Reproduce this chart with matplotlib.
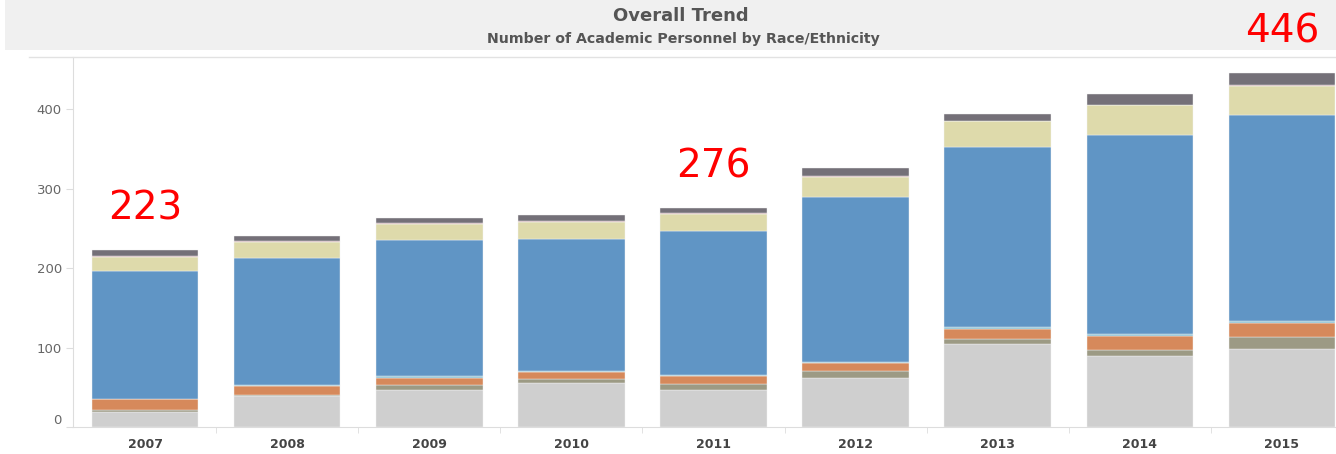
import numpy as np
import matplotlib.pyplot as plt
from matplotlib.patches import Rectangle
from matplotlib.lines import Line2D

# Academic personnel counts by race/ethnicity
years = ['2007', '2008', '2009', '2010', '2011', '2012', '2013', '2014', '2015']
unknown = [19, 39, 46, 55, 47, 62, 105, 89, 98]
two_or_more = [3, 1, 7, 5, 7, 8, 6, 8, 15]
hispanic = [13, 12, 9, 9, 10, 10, 13, 18, 18]
pacific_isl = [0, 1, 2, 2, 2, 2, 2, 2, 2]
white = [162, 160, 171, 166, 181, 208, 227, 251, 260]
asian = [17, 20, 21, 21, 21, 25, 32, 37, 37]
amer_indian = [1, 1, 1, 1, 1, 1, 1, 1, 1]
black = [8, 6, 6, 8, 7, 10, 8, 13, 15]
labelled_years = ['2007', '2011', '2015']

series = [unknown, two_or_more, hispanic, pacific_isl, white, asian, amer_indian, black]
colors = ['#CFCFCF', '#9C9A84', '#D6895B', '#8CC2D6', '#6095C5', '#DEDAAB', '#C8A0A4', '#747078']

W, H = 1336, 454
fig = plt.figure(figsize=(W / 100, H / 100), dpi=100)

# grey title band
fig.patches.append(Rectangle((5 / W, 1 - 50 / H), 1, 50 / H, transform=fig.transFigure,
                             facecolor='#F0F0F0', edgecolor='none', zorder=-5))
fig.text(681 / W, 1 - 16 / H, 'Overall Trend', ha='center', va='center',
         fontsize=13, fontweight='bold', color='#555555')
fig.text(683 / W, 1 - 39 / H, 'Number of Academic Personnel by Race/Ethnicity', ha='center',
         va='center', fontsize=10.2, fontweight='bold', color='#555555')
# frame line under the title band
fig.lines.append(Line2D([29 / W, 1], [1 - 57 / H, 1 - 57 / H], transform=fig.transFigure,
                        color='#E2E2E2', lw=1, zorder=5))

ax = fig.add_axes([73 / W, 27 / H, 1 - 73 / W, 370 / H])
ax.set_zorder(2)
x = np.arange(len(years))
bottom = np.zeros(len(years))
for vals, c in zip(series, colors):
    ax.bar(x, vals, 0.75, bottom=bottom, color=c, edgecolor='#F4F4F4', linewidth=0.3)
    bottom += np.array(vals)

totals = bottom
for i, yr in enumerate(years):
    if yr in labelled_years:
        ax.annotate(f'{int(totals[i])}', (i, totals[i]), xytext=(0, 30), textcoords='offset points',
                    ha='center', va='center', fontsize=28, color='#FF0000', annotation_clip=False)

ax.set_xlim(-0.507, 8.38)
ax.set_ylim(0, 466)
ax.set_yticks([0, 100, 200, 300, 400])
ax.set_xticks(x)
ax.set_xticklabels(years, fontsize=9, fontweight='bold', color='#444444')
ax.set_xticks(x[:-1] + 0.5, minor=True)
ax.tick_params(axis='x', which='major', length=0, pad=8)
ax.tick_params(axis='x', which='minor', length=4, color='#DDDDDD')
ax.tick_params(axis='y', length=5, color='#DDDDDD', labelsize=9.5, labelcolor='#666666', pad=3)
ax.get_yticklabels()[0].set_verticalalignment('bottom')

for s in ['top', 'right']:
    ax.spines[s].set_visible(False)
ax.spines['left'].set_color('#DDDDDD')
ax.spines['bottom'].set_color('#DDDDDD')

fig.savefig('out.png', dpi=100)
